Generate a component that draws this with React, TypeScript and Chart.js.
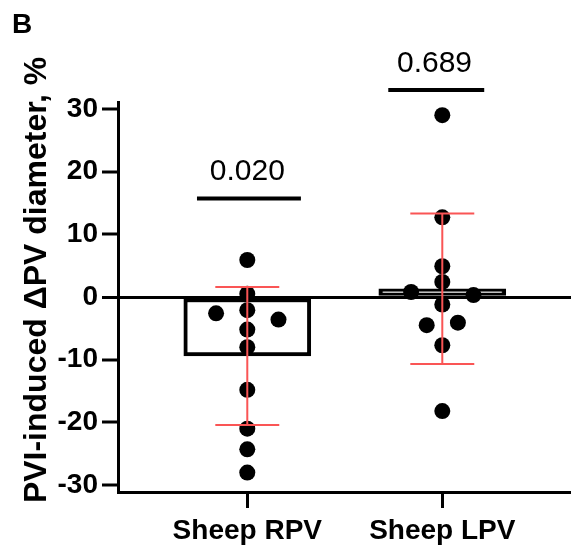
import React, { useEffect, useRef } from "react";
import { Chart, registerables } from "chart.js";
Chart.register(...registerables);

const categories = ["Sheep RPV", "Sheep LPV"];
const groupX = [1, 2];
const means = [-9.4, 1.3];
const sds = [11.0, 12.0];
const rpvValues = [5.9, 0.5, -2.1, -5.2, -8.0, -14.8, -21.0, -24.3, -28.0, -2.6, -3.6];
const rpvOffsets = [0, 0, 0, 0, 0, 0, 0, 0, 0, -0.16, 0.16];
const lpvValues = [29.0, 12.7, 4.9, 2.4, 0.8, 0.3, -1.2, -4.5, -4.1, -7.7, -18.2];
const lpvOffsets = [0, 0, 0, 0, -0.16, 0.16, 0, -0.08, 0.08, 0, 0];
const yTicks = [-30, -20, -10, 0, 10, 20, 30];
const pLabels = ["0.020", "0.689"];
const bracketY = [15.7, 33.0];
const bracketFrom = [0.742, 1.723];
const bracketTo = [1.275, 2.215];
const pLabelX = [1.0, 1.96];
const capHalf = 0.164;
const yTitle = "PVI-induced \u0394PV diameter, %";
const panelLabel = "B";

const FONT = "'Liberation Sans', Arial, Helvetica, sans-serif";

const overlay = {
  id: "overlay",
  afterDatasetsDraw(chart: any) {
    const { ctx } = chart;
    const x = chart.scales.x;
    const y = chart.scales.y;
    ctx.save();
    // error bars
    ctx.strokeStyle = "rgb(250,85,85)";
    ctx.lineWidth = 2;
    groupX.forEach((g, i) => {
      const px = x.getPixelForValue(g);
      const top = y.getPixelForValue(means[i] + sds[i]);
      const bot = y.getPixelForValue(means[i] - sds[i]);
      const half = x.getPixelForValue(g + capHalf) - px;
      ctx.beginPath();
      ctx.moveTo(px, top);
      ctx.lineTo(px, bot);
      ctx.moveTo(px - half, top);
      ctx.lineTo(px + half, top);
      ctx.moveTo(px - half, bot);
      ctx.lineTo(px + half, bot);
      ctx.stroke();
    });
    // brackets + p values
    ctx.strokeStyle = "#000";
    ctx.fillStyle = "#000";
    ctx.lineWidth = 4;
    ctx.font = `30px ${FONT}`;
    ctx.textAlign = "center";
    ctx.textBaseline = "alphabetic";
    pLabels.forEach((lab, i) => {
      const py = y.getPixelForValue(bracketY[i]);
      ctx.beginPath();
      ctx.moveTo(x.getPixelForValue(bracketFrom[i]), py);
      ctx.lineTo(x.getPixelForValue(bracketTo[i]), py);
      ctx.stroke();
      ctx.fillText(lab, x.getPixelForValue(pLabelX[i]), py - 18.5);
    });
    // panel label
    ctx.font = `bold 28px ${FONT}`;
    ctx.textAlign = "left";
    ctx.fillText(panelLabel, 12, 33);
    // y title
    ctx.translate(37, 280);
    ctx.rotate(-Math.PI / 2);
    ctx.font = `bold 32px ${FONT}`;
    ctx.textAlign = "center";
    ctx.textBaseline = "middle";
    ctx.fillText(yTitle, 0, 0);
    ctx.restore();
  },
};

export default function App() {
  const ref = useRef<HTMLCanvasElement | null>(null);
  useEffect(() => {
    if (!ref.current) return;
    const points = [
      ...rpvValues.map((v, i) => ({ x: groupX[0] + rpvOffsets[i], y: v })),
      ...lpvValues.map((v, i) => ({ x: groupX[1] + lpvOffsets[i], y: v })),
    ];
    const chart = new Chart(ref.current, {
      type: "bar",
      data: {
        datasets: [
          {
            type: "bar",
            data: groupX.map((g, i) => ({ x: g, y: means[i] })),
            backgroundColor: "#fff",
            borderColor: "#000",
            borderWidth: 4,
            borderSkipped: false,
            barThickness: 127,
            order: 3,
          } as any,
          {
            type: "scatter",
            data: points,
            pointRadius: 8,
            pointBackgroundColor: "#000",
            pointBorderWidth: 0,
            showLine: false,
            order: 2,
          } as any,
        ],
      },
      options: {
        animation: false,
        responsive: false,
        layout: { autoPadding: false, padding: { top: 102, left: 0, right: 0, bottom: 0 } },
        plugins: { legend: { display: false }, tooltip: { enabled: false } },
        scales: {
          x: {
            type: "linear",
            min: 0.337,
            max: 2.66,
            bounds: "data",
            offset: false,
            grid: {
              offset: false,
              drawOnChartArea: false,
              drawTicks: true,
              tickLength: 16,
              tickColor: "#000",
              tickWidth: 3,
            },
            border: { display: true, color: "#000", width: 3 },
            ticks: {
              padding: 6,
              color: "#000",
              font: { family: FONT, size: 28, weight: "bold" },
              maxRotation: 0,
              autoSkip: false,
              callback: (v: any) => categories[Math.round(Number(v)) - 1] ?? "",
            },
            afterBuildTicks: (axis: any) => {
              axis.ticks = groupX.map((g) => ({ value: g }));
            },
            afterFit: (axis: any) => {
              axis.height = 54;
            },
          } as any,
          y: {
            type: "linear",
            min: -31.1,
            max: 31.1,
            bounds: "data",
            grid: {
              drawOnChartArea: true,
              drawTicks: true,
              tickLength: 16,
              tickColor: "#000",
              tickWidth: 3,
              color: (c: any) => (c.tick && c.tick.value === 0 ? "#000" : "rgba(0,0,0,0)"),
              lineWidth: (c: any) => (c.tick && c.tick.value === 0 ? 3 : 0),
            },
            border: { display: true, color: "#000", width: 3 },
            ticks: {
              padding: 4,
              color: "#000",
              font: { family: FONT, size: 28, weight: "bold" },
              autoSkip: false,
            },
            afterBuildTicks: (axis: any) => {
              axis.ticks = yTicks.map((v) => ({ value: v }));
            },
            afterFit: (axis: any) => {
              axis.width = 118;
            },
          } as any,
        },
      },
      plugins: [overlay],
    });
    return () => chart.destroy();
  }, []);
  return (
    <div style={{ position: "absolute", left: 0, top: 0, width: 571, height: 546, background: "#fff" }}>
      <canvas ref={ref} width={571} height={546} style={{ display: "block" }} />
    </div>
  );
}
